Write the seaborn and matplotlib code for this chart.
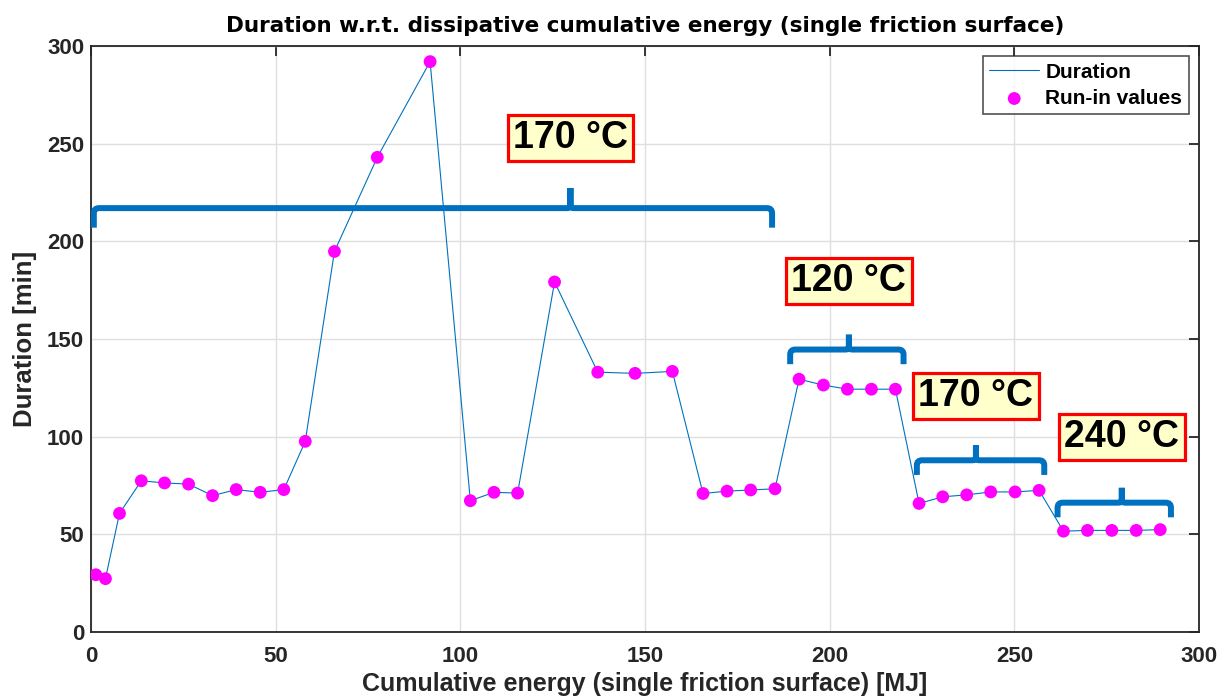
import numpy as np
import pandas as pd
import matplotlib
matplotlib.use("Agg")
import matplotlib.pyplot as plt
from matplotlib.path import Path
from matplotlib.patches import PathPatch
import seaborn as sns

# Data
energy = [1.3, 3.9, 7.7, 13.6, 19.9, 26.4, 32.9, 39.3, 45.8, 52.2,
          58.0, 65.9, 77.5, 91.8, 102.7, 109.1, 115.5, 125.5, 137.2, 147.3,
          157.4, 165.7, 172.2, 178.6, 185.2, 191.7, 198.3, 204.8, 211.3, 217.8,
          224.2, 230.6, 237.1, 243.6, 250.2, 256.7, 263.3, 269.8, 276.4, 283.0,
          289.5]
duration = [29.3, 27.3, 60.7, 77.4, 76.3, 75.7, 69.8, 72.9, 71.5, 72.9,
            97.6, 194.8, 243.0, 292.0, 67.2, 71.5, 71.1, 179.2, 133.0, 132.4,
            133.4, 70.9, 72.1, 72.7, 73.3, 129.4, 126.4, 124.3, 124.3, 124.3,
            65.8, 69.2, 70.2, 71.7, 71.7, 72.5, 51.6, 52.0, 52.0, 52.0,
            52.4]

# temperature phases: label, brace span, brace level, label position
phase_labels = ["170 °C", "120 °C", "170 °C", "240 °C"]
phase_start = [0.75, 189.3, 223.6, 261.7]
phase_end = [184.4, 220.0, 258.1, 292.4]
phase_level = [217.0, 144.6, 87.9, 66.2]
label_x = [129.8, 205.2, 239.6, 279.1]
label_y = [253.0, 179.7, 120.8, 99.8]

df = pd.DataFrame({"energy": energy, "duration": duration})

sns.set_style("white")
plt.rcParams["font.family"] = ["Liberation Sans", "DejaVu Sans"]
plt.rcParams["font.weight"] = "bold"

MATLAB_BLUE = "#0072BD"
BRACE_BLUE = "#0070C0"
AX_GREY = "#262626"


def draw_brace(ax, x0, x1, xc, y, depth, cusp):
    # curly bracket lying on its back: ends bend down, spike up at xc
    rx, ry = 1.4, 2.6      # corner rounding of the ends
    cx, cy = 0.9, 1.6      # rounding at the foot of the spike
    verts = [
        (x0, y - depth), (x0, y - ry), (x0, y), (x0 + rx, y),
        (xc - cx, y), (xc, y), (xc, y + cy), (xc, y + cusp),
        (xc, y + cy), (xc, y), (xc + cx, y),
        (x1 - rx, y), (x1, y), (x1, y - ry), (x1, y - depth),
    ]
    codes = [
        Path.MOVETO, Path.LINETO, Path.CURVE3, Path.CURVE3,
        Path.LINETO, Path.CURVE3, Path.CURVE3, Path.LINETO,
        Path.LINETO, Path.CURVE3, Path.CURVE3,
        Path.LINETO, Path.CURVE3, Path.CURVE3, Path.LINETO,
    ]
    ax.add_patch(PathPatch(Path(verts, codes), fill=False, edgecolor=BRACE_BLUE,
                           lw=4.3, capstyle="butt", joinstyle="miter", zorder=4))


fig = plt.figure(figsize=(12.19, 6.97), dpi=100)
ax = fig.add_axes([0.0747, 0.0933, 0.9089, 0.8407])

sns.lineplot(data=df, x="energy", y="duration", ax=ax, color=MATLAB_BLUE,
             lw=0.8, label="Duration", zorder=3)
sns.scatterplot(data=df, x="energy", y="duration", ax=ax, color="#FF00FF",
                s=85, edgecolor="none", label="Run-in values", zorder=5)

for lab, xs, xe, lev, tx, ty in zip(phase_labels, phase_start, phase_end,
                                    phase_level, label_x, label_y):
    big = lev > 200
    draw_brace(ax, xs, xe, tx, lev, depth=10.0 if big else 7.5,
               cusp=10.3 if big else 7.6)
    ax.text(tx, ty, lab, fontsize=27, fontweight="bold", ha="center",
            va="center", color="black", zorder=6,
            bbox=dict(boxstyle="square,pad=0.14", facecolor="#FFFFCC",
                      edgecolor="#FF0000", lw=2.3))

ax.set_xlim(0, 300)
ax.set_ylim(0, 300)
ax.set_xticks(np.arange(0, 301, 50))
ax.set_yticks(np.arange(0, 301, 50))
ax.grid(True, color="#DFDFDF", lw=1.0)
ax.set_axisbelow(True)
ax.tick_params(direction="in", length=7, width=1.3, top=True, right=True,
               labelsize=16, colors=AX_GREY)
ax.tick_params(axis="x", pad=10)
ax.tick_params(axis="y", pad=5)
for lbl in ax.get_xticklabels() + ax.get_yticklabels():
    lbl.set_fontweight("bold")
for sp in ax.spines.values():
    sp.set_linewidth(1.3)
    sp.set_color(AX_GREY)

ax.set_title("Duration w.r.t. dissipative cumulative energy (single friction surface)",
             fontsize=15.5, fontweight="bold", color="black", pad=10,
             family=["DejaVu Sans"])
ax.set_xlabel("Cumulative energy (single friction surface) [MJ]", fontsize=18,
              fontweight="bold", color=AX_GREY, labelpad=4)
ax.set_ylabel("Duration [min]", fontsize=18.5, fontweight="bold",
              color=AX_GREY, labelpad=7)

leg = ax.legend(loc="upper right", fontsize=15, frameon=True, fancybox=False,
                edgecolor=AX_GREY, borderaxespad=0.5, handlelength=2.4,
                handletextpad=0.3, labelspacing=0.35, borderpad=0.3)
leg.get_frame().set_linewidth(1.2)
for t in leg.get_texts():
    t.set_fontweight("bold")
    t.set_color("black")

fig.savefig("out.png", dpi=100)
